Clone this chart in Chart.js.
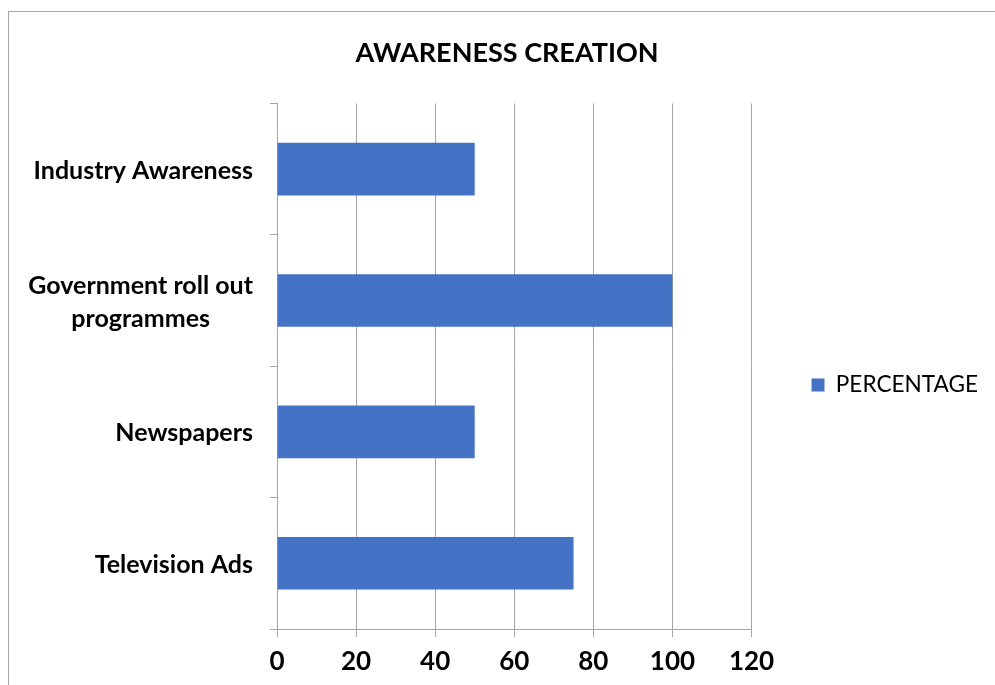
<!DOCTYPE html>
<html>
<head>
<meta charset="utf-8">
<script src="https://cdn.jsdelivr.net/npm/chart.js@4.4.1/dist/chart.umd.min.js"></script>
<style>
  html, body { margin: 0; padding: 0; background: #ffffff; }
  body { width: 995px; height: 685px; position: relative; overflow: hidden; }
  #frame { position: absolute; left: 8px; top: 11px; width: 1000px; height: 700px; border: 1px solid #a6a6a6; box-sizing: border-box; }
  #wrap { position: absolute; left: 0; top: 0; width: 995px; height: 685px; }
</style>
</head>
<body>
<div id="frame"></div>
<div id="wrap"><canvas id="chart" width="995" height="685"></canvas></div>
<script>
// Survey: channels through which awareness was created
const categories = [
  ['Industry Awareness'],
  ['Government roll out', 'programmes'],
  ['Newspapers'],
  ['Television Ads']
];
const percentage = [50, 100, 50, 75];
const seriesName = 'PERCENTAGE';
const chartTitle = 'AWARENESS CREATION';
const xMin = 0, xMax = 120, xStep = 20;

const FONT = 'Lato, "Open Sans", "Liberation Sans", sans-serif';
const GRID = '#a6a6a6';
const BAR = '#4472c4';

const CANVAS_H = 685;
const PAD_L = 26, PAD_R = 7;      // title centred on the frame
const PAD_B = -85;                // lowers the vertically centred legend
const AXIS_LEFT = 277;            // left edge of the plot area
const AXIS_BOTTOM = 629;          // baseline of the plot area

// Category labels: block right-aligned to the axis, lines centred inside the block
const categoryLabels = {
  id: 'categoryLabels',
  afterDraw(chart) {
    const { ctx, scales: { y } } = chart;
    const size = 25, lineH = 33, right = 253;
    ctx.save();
    ctx.font = 'bold ' + size + 'px ' + FONT;
    ctx.fillStyle = '#000000';
    ctx.textAlign = 'center';
    ctx.textBaseline = 'middle';
    categories.forEach((lines, i) => {
      const cy = y.getPixelForValue(i) + 1.5;
      const w = Math.max(...lines.map(l => ctx.measureText(l).width));
      const cx = right - w / 2;
      const y0 = cy - (lines.length - 1) * lineH / 2;
      lines.forEach((l, k) => ctx.fillText(l, cx, y0 + k * lineH));
    });
    ctx.restore();
  }
};

new Chart(document.getElementById('chart'), {
  type: 'bar',
  data: {
    labels: categories,
    datasets: [{
      label: seriesName,
      data: percentage,
      backgroundColor: BAR,
      borderWidth: 0,
      barPercentage: 0.4,
      categoryPercentage: 1.0
    }]
  },
  options: {
    indexAxis: 'y',
    responsive: false,
    animation: false,
    layout: { padding: { left: PAD_L, right: PAD_R, top: 0, bottom: PAD_B } },
    plugins: {
      title: {
        display: true,
        text: chartTitle,
        color: '#000000',
        font: { family: FONT, size: 27, weight: 'bold', lineHeight: 1.2 },
        padding: { top: 37, bottom: 34 }
      },
      legend: {
        display: true,
        position: 'right',
        labels: {
          color: '#000000',
          font: { family: FONT, size: 22.6 },
          boxWidth: 13,
          boxHeight: 13,
          padding: 60
        }
      },
      tooltip: { enabled: false }
    },
    scales: {
      x: {
        min: xMin,
        max: xMax,
        ticks: {
          stepSize: xStep,
          color: '#000000',
          font: { family: FONT, size: 26, weight: 'bold' },
          padding: 9
        },
        grid: { color: GRID, lineWidth: 1, drawTicks: true, tickLength: 8, tickColor: GRID },
        border: { display: true, color: GRID, width: 1 },
        afterFit(scale) { scale.height = CANVAS_H - AXIS_BOTTOM - PAD_B; }
      },
      y: {
        ticks: { display: false },
        grid: { offset: true, drawOnChartArea: false, drawTicks: true, tickLength: 7, tickColor: GRID, color: GRID },
        border: { display: true, color: GRID, width: 1 },
        afterFit(scale) { scale.width = AXIS_LEFT - PAD_L; }
      }
    }
  },
  plugins: [categoryLabels]
});
</script>
</body>
</html>
